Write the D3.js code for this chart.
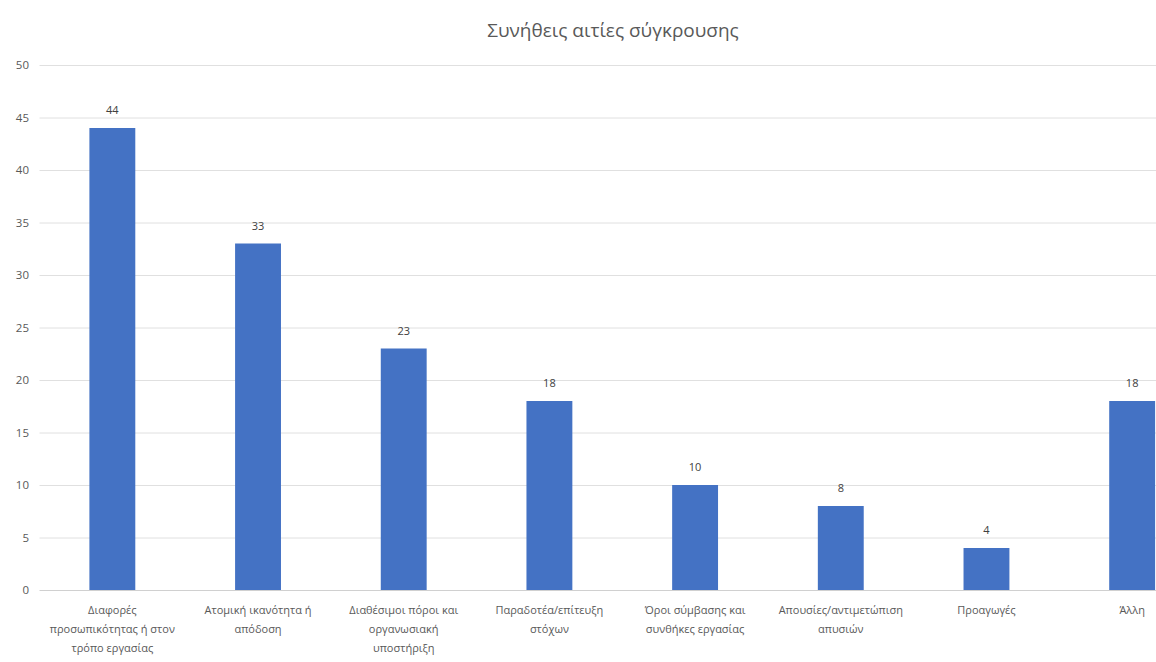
<!DOCTYPE html>
<html>
<head>
<meta charset="utf-8">
<script src="https://cdn.jsdelivr.net/npm/d3@7"></script>
<style>
  body { margin: 0; background: #fff; }
  svg { display: block; font-family: "Open Sans", "Noto Sans", sans-serif; }
</style>
</head>
<body>
<svg id="chart"></svg>
<script>
// chart data
const title = 'Συνήθεις αιτίες σύγκρουσης'
const categories = [
  'Διαφορές\nπροσωπικότητας ή στον\nτρόπο εργασίας',
  'Ατομική ικανότητα ή\nαπόδοση',
  'Διαθέσιμοι πόροι και\nοργανωσιακή\nυποστήριξη',
  'Παραδοτέα/επίτευξη\nστόχων',
  'Όροι σύμβασης και\nσυνθήκες εργασίας',
  'Απουσίες/αντιμετώπιση\nαπυσιών',
  'Προαγωγές',
  'Άλλη'
]
const values = [44, 33, 23, 18, 10, 8, 4, 18]
const yTicks = [0, 5, 10, 15, 20, 25, 30, 35, 40, 45, 50]

const width = 1156
const height = 662
// plot runs off the right edge, like the cropped original
const plotLeft = 39.5
const plotRight = 1205
const plotTop = 65
const plotBottom = 590

const svg = d3.select('#chart')
    .attr('width', width)
    .attr('height', height)

const x = d3.scaleBand()
    .domain(categories)
    .range([plotLeft, plotRight])
    .paddingInner(0.685)
    .paddingOuter(0.3425)

const y = d3.scaleLinear()
    .domain([0, 50])
    .range([plotBottom, plotTop])

// gridlines
svg.append('g')
    .selectAll('line')
    .data(yTicks)
    .join('line')
    .attr('x1', plotLeft)
    .attr('x2', plotRight)
    .attr('y1', d => y(d) + 0.5)
    .attr('y2', d => y(d) + 0.5)
    .attr('stroke', d => d === 0 ? '#d0d0d0' : '#e0e0e0')
    .attr('stroke-width', 1)

// y tick labels
svg.append('g')
    .selectAll('text')
    .data(yTicks)
    .join('text')
    .attr('x', 29)
    .attr('y', d => y(d))
    .attr('dy', '0.35em')
    .attr('text-anchor', 'end')
    .attr('fill', '#595959')
    .attr('font-size', 11.5)
    .text(d => d)

// bars
svg.append('g')
    .selectAll('rect')
    .data(values)
    .join('rect')
    .attr('x', (d, i) => x(categories[i]))
    .attr('y', d => y(d))
    .attr('width', x.bandwidth())
    .attr('height', d => y(0) - y(d))
    .attr('fill', '#4472c4')

// value labels
svg.append('g')
    .selectAll('text')
    .data(values)
    .join('text')
    .attr('x', (d, i) => x(categories[i]) + x.bandwidth() / 2)
    .attr('y', d => y(d) - 14)
    .attr('text-anchor', 'middle')
    .attr('fill', '#404040')
    .attr('font-size', 11)
    .text(d => d)

// category labels, split on line breaks
const catLabels = svg.append('g')
    .selectAll('text')
    .data(categories)
    .join('text')
    .attr('x', d => x(d) + x.bandwidth() / 2)
    .attr('y', 614)
    .attr('text-anchor', 'middle')
    .attr('fill', '#595959')
    .attr('font-size', 11)

catLabels.each(function (d) {
    const el = d3.select(this)
    d.split('\n').forEach((line, i) => {
        el.append('tspan')
            .attr('x', x(d) + x.bandwidth() / 2)
            .attr('dy', i === 0 ? 0 : 19)
            .text(line)
    })
})

// title
svg.append('text')
    .attr('x', 613)
    .attr('y', 37)
    .attr('text-anchor', 'middle')
    .attr('fill', '#595959')
    .attr('font-size', 19)
    .text(title)
</script>
</body>
</html>
